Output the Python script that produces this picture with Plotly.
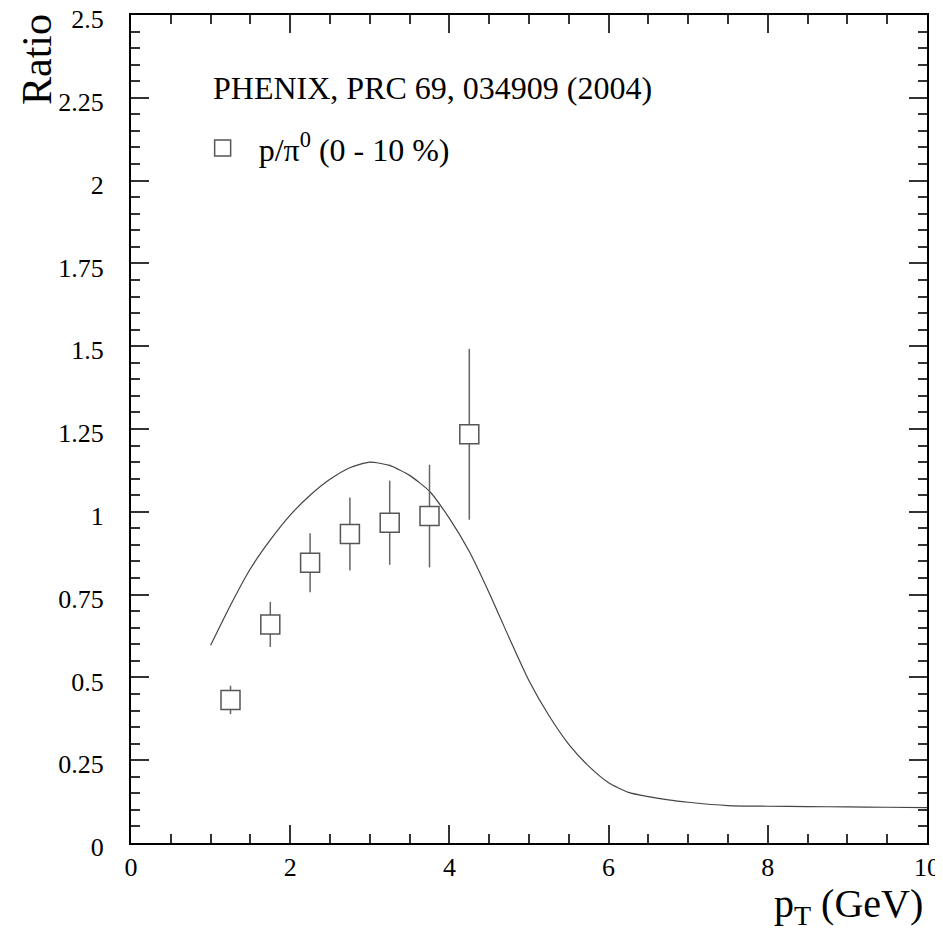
import plotly.graph_objects as go

# Data points (p/pi0, 0-10%)
pt = [1.25, 1.75, 2.25, 2.75, 3.25, 3.75, 4.25]
ratio = [0.432, 0.660, 0.846, 0.933, 0.967, 0.987, 1.234]
err = [0.043, 0.068, 0.089, 0.110, 0.127, 0.155, 0.258]

# Model curve
curve_x = [1.0, 1.25, 1.5, 1.75, 2.0, 2.25, 2.5, 2.75, 3.0, 3.25, 3.5, 3.75,
           4.0, 4.25, 4.5, 4.75, 5.0, 5.25, 5.5, 5.75, 6.0, 6.25, 6.5, 6.75,
           7.0, 7.5, 8.0, 8.5, 9.0, 9.5, 10.0]
curve_y = [0.597, 0.718, 0.828, 0.915, 0.990, 1.050, 1.098, 1.133, 1.150, 1.140, 1.110, 1.062,
           0.980, 0.880, 0.755, 0.620, 0.490, 0.385, 0.298, 0.232, 0.182, 0.153, 0.140, 0.130,
           0.123, 0.113, 0.111, 0.110, 0.109, 0.108, 0.107]

x_ticks = [0, 2, 4, 6, 8, 10]
y_ticks = [0, 0.25, 0.5, 0.75, 1, 1.25, 1.5, 1.75, 2, 2.25, 2.5]
y_ticktext = ["0", "0.25", "0.5", "0.75", "1", "1.25", "1.5", "1.75", "2", "2.25", "2.5"]

FONT = "'Liberation Serif', 'Times New Roman', Times, serif"

fig = go.Figure()
fig.add_trace(go.Scatter(
    x=curve_x, y=curve_y, mode="lines",
    line=dict(color="#444444", width=1.2, shape="spline", smoothing=0.6),
    showlegend=False, hoverinfo="skip"))
fig.add_trace(go.Scatter(
    x=pt, y=ratio, mode="markers",
    name="&nbsp;&nbsp;p/π<sup>0</sup> (0 - 10 %)",
    marker=dict(symbol="square", size=19, color="white",
                line=dict(color="#555555", width=1.5)),
    error_y=dict(type="data", array=err, visible=True, thickness=1.5, width=0,
                 color="#666666"),
))

# the page body has an 8px margin; the figure is offset by it
fig.update_layout(
    width=935, height=924,
    margin=dict(l=123, r=16, t=7, b=89),
    paper_bgcolor="white", plot_bgcolor="white",
    font=dict(family=FONT, color="black", size=26),
    showlegend=True,
    legend=dict(x=0.09, y=0.839, xanchor="left", yanchor="middle",
                bgcolor="rgba(0,0,0,0)", font=dict(size=32, family=FONT),
                itemsizing="trace"),
    xaxis=dict(range=[0, 10], tickvals=x_ticks, ticks="inside", ticklen=18,
               tickwidth=1.5, tickcolor="#333", showline=True, linewidth=2,
               linecolor="black", mirror="allticks", showgrid=False,
               zeroline=False, tickfont=dict(size=26, family=FONT),
               ticklabelstandoff=0, automargin=False, ticklabeloverflow="allow",
               minor=dict(dtick=0.5, ticks="inside", ticklen=9, tickwidth=1.5,
                          tickcolor="#333", showgrid=False)),
    yaxis=dict(range=[0, 2.5], tickvals=y_ticks, ticktext=y_ticktext,
               ticks="inside", ticklen=18, tickwidth=1.5, tickcolor="#333",
               showline=True, linewidth=2, linecolor="black", mirror="allticks",
               showgrid=False, zeroline=False, tickfont=dict(size=26, family=FONT),
               ticklabelstandoff=20, ticklabelshift=4, automargin=False,
               ticklabeloverflow="allow",
               minor=dict(dtick=0.05, ticks="inside", ticklen=9, tickwidth=1.5,
                          tickcolor="#333", showgrid=False)),
    annotations=[
        dict(text="PHENIX, PRC 69, 034909 (2004)", xref="paper", yref="paper",
             x=0.1, y=0.912, xanchor="left", yanchor="middle", showarrow=False,
             font=dict(size=32, family=FONT)),
        dict(text="Ratio", xref="paper", yref="paper", x=-0.119, y=0.946,
             xanchor="center", yanchor="middle", textangle=-90, showarrow=False,
             font=dict(size=42, family=FONT)),
        dict(text="p<sub>T</sub> (GeV)", xref="paper", yref="paper", x=0.9975,
             y=-0.076, xanchor="right", yanchor="middle", showarrow=False,
             font=dict(size=40, family=FONT)),
    ],
)

fig.write_html("out.html")
